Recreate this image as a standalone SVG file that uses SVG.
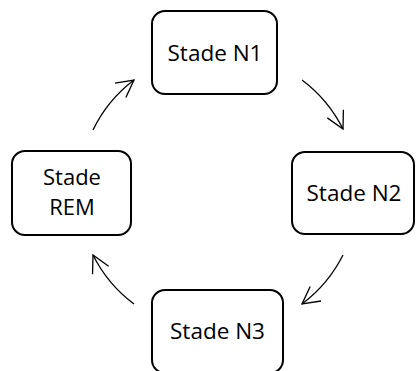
<svg xmlns="http://www.w3.org/2000/svg" width="417" height="371" viewBox="0 0 417 371">
<style>
.box{fill:#fff;stroke:#000;stroke-width:2}
.lbl{font-family:"Open Sans","Liberation Sans",sans-serif;font-size:22.5px;fill:#000;text-anchor:middle}
.sm{font-size:22px}
.arc{fill:none;stroke:#000;stroke-width:1.3;marker-end:url(#ah)}
</style>
<defs>
<marker id="ah" markerUnits="userSpaceOnUse" orient="auto" markerWidth="24" markerHeight="24" refX="0" refY="0" viewBox="-20 -12 24 24" overflow="visible">
<path d="M-17,-9 L0,0 L-17,9" fill="none" stroke="#000" stroke-width="1.3"/>
</marker>
</defs>
<rect width="417" height="371" fill="#fff"/>
<g id="connectors">
<path class="arc" d="M93,130 A138,138 0 0 1 134,80"/>
<path class="arc" d="M302,80 A140,140 0 0 1 343,129"/>
<path class="arc" d="M343,255 A140,140 0 0 1 302,304"/>
<path class="arc" d="M134,304 A138,138 0 0 1 93,255"/>
</g>
<g id="n1">
<rect class="box" x="152" y="11" width="125" height="83" rx="13"/>
<text class="lbl" x="215" y="61">Stade N1</text>
</g>
<g id="n2">
<rect class="box" x="292" y="152" width="122" height="82" rx="13"/>
<text class="lbl" x="354" y="201">Stade N2</text>
</g>
<g id="n3">
<rect class="box" x="152" y="290" width="131" height="83" rx="13"/>
<text class="lbl" x="217.5" y="339">Stade N3</text>
</g>
<g id="rem">
<rect class="box" x="12" y="151" width="119" height="84" rx="13"/>
<text class="lbl sm" x="72" y="185">Stade</text>
<text class="lbl sm" x="72" y="215">REM</text>
</g>
</svg>
